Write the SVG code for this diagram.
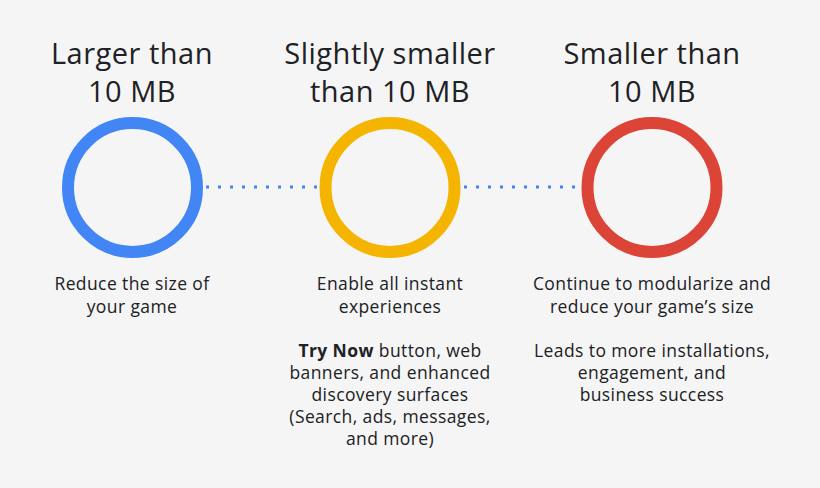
<svg xmlns="http://www.w3.org/2000/svg" width="820" height="488" viewBox="0 0 820 488">
<style>
.bg{fill:#f5f5f5}
.ring{fill:none;stroke-width:12}
.title{font-family:"Open Sans","Liberation Sans",sans-serif;font-size:29px;letter-spacing:0.5px;fill:#202124;text-anchor:middle}
.body{font-family:"Open Sans","Liberation Sans",sans-serif;font-size:17.5px;letter-spacing:0.4px;fill:#202124;text-anchor:middle}
.dots{stroke:#4285F4;stroke-width:3;stroke-dasharray:3 9;fill:none}
</style>
<rect class="bg" x="0" y="0" width="820" height="488"/>
<g id="connectors">
<line class="dots" x1="206" y1="187" x2="318" y2="187"/>
<line class="dots" x1="464" y1="187" x2="580" y2="187"/>
</g>
<g id="node-large">
<text class="title" x="132" y="64">Larger than</text>
<text class="title" x="132" y="102">10 MB</text>
<circle class="ring" cx="132.5" cy="187.5" r="64.5" stroke="#4285F4"/>
<text class="body" x="132" y="290">Reduce the size of</text>
<text class="body" x="132" y="313">your game</text>
</g>
<g id="node-slightly">
<text class="title" x="390" y="64">Slightly smaller</text>
<text class="title" x="390" y="102">than 10 MB</text>
<circle class="ring" cx="390" cy="187.5" r="64.5" stroke="#F4B400"/>
<text class="body" x="390" y="290">Enable all instant</text>
<text class="body" x="390" y="313">experiences</text>
<text class="body" x="390" y="357"><tspan font-weight="bold">Try Now</tspan> button, web</text>
<text class="body" x="390" y="379">banners, and enhanced</text>
<text class="body" x="390" y="401">discovery surfaces</text>
<text class="body" x="390" y="423">(Search, ads, messages,</text>
<text class="body" x="390" y="445">and more)</text>
</g>
<g id="node-smaller">
<text class="title" x="652" y="64">Smaller than</text>
<text class="title" x="652" y="102">10 MB</text>
<circle class="ring" cx="652" cy="187.5" r="64.5" stroke="#DB4437"/>
<text class="body" x="652" y="290">Continue to modularize and</text>
<text class="body" x="652" y="313">reduce your game’s size</text>
<text class="body" x="652" y="357">Leads to more installations,</text>
<text class="body" x="652" y="379">engagement, and</text>
<text class="body" x="652" y="401">business success</text>
</g>
</svg>
